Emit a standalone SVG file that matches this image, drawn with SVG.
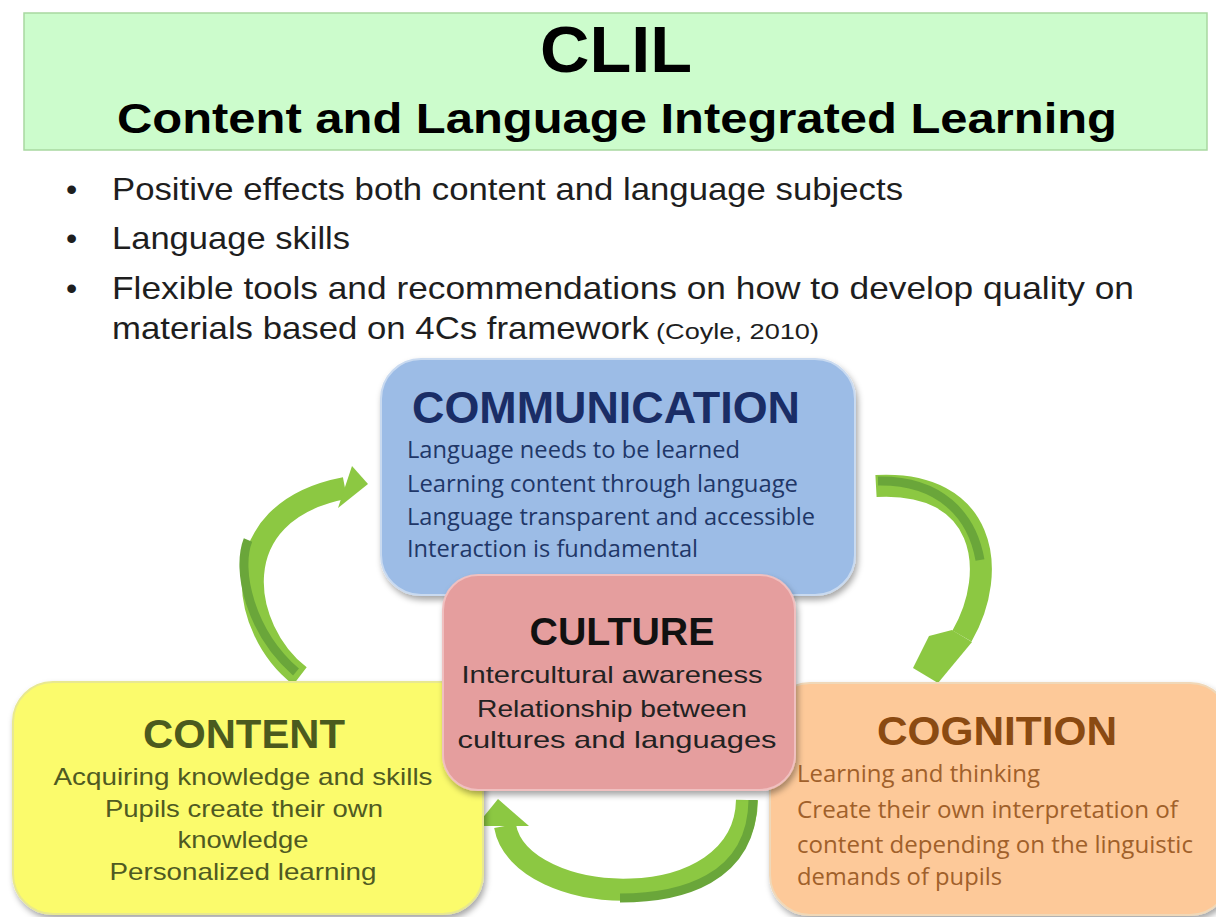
<svg xmlns="http://www.w3.org/2000/svg" width="1216" height="917" viewBox="0 0 1216 917">
<defs>
<style>
.sans{font-family:"Liberation Sans",Arial,sans-serif}
.cal{font-family:"Open Sans","Noto Sans",sans-serif}
.ttl{font-family:"Liberation Sans",Arial,sans-serif;font-weight:bold;text-anchor:middle}
.arrow{fill:none;stroke:#8cc842;stroke-width:22;stroke-linecap:butt}
.shade{fill:none;stroke:#6aa63a;stroke-width:9;stroke-linecap:butt}
.head{fill:#8cc842}
</style>
<filter id="sh" x="-10%" y="-10%" width="120%" height="130%">
<feDropShadow dx="2" dy="4" stdDeviation="3" flood-color="#000" flood-opacity="0.35"/>
</filter>
</defs>
<rect width="1216" height="917" fill="#ffffff"/>
<g id="title">
<rect x="24" y="13" width="1183" height="137" fill="#ccfccc" stroke="#a8d8a0" stroke-width="1.5"/>
<text class="ttl" x="616" y="72" font-size="64" textLength="152" lengthAdjust="spacingAndGlyphs" fill="#000">CLIL</text>
<text class="ttl" x="617" y="133" font-size="43" textLength="1000" lengthAdjust="spacingAndGlyphs" fill="#000">Content and Language Integrated Learning</text>
</g>
<g id="bullets" class="sans" fill="#1e1e1e" font-size="32">
<text x="66" y="200">•</text>
<text x="112" y="200" textLength="791" lengthAdjust="spacingAndGlyphs">Positive effects both content and language subjects</text>
<text x="66" y="249">•</text>
<text x="112" y="249" textLength="238" lengthAdjust="spacingAndGlyphs">Language skills</text>
<text x="66" y="299">•</text>
<text x="112" y="299" textLength="1022" lengthAdjust="spacingAndGlyphs">Flexible tools and recommendations on how to develop quality on</text>
<text x="112" y="339" textLength="537" lengthAdjust="spacingAndGlyphs">materials based on 4Cs framework</text>
<text x="656" y="339" font-size="22" textLength="163" lengthAdjust="spacingAndGlyphs">(Coyle, 2010)</text>
</g>
<g id="connectors">
<path class="arrow" d="M300,676 C240,630 220,512 345,488"/>
<path class="shade" d="M296,672 C250,632 236,570 248,540"/>
<polygon class="head" points="368,484 352,466 338,508"/>
<path class="arrow" d="M876,486 C985,480 1000,570 962,636"/>
<path class="shade" d="M878,481 C940,480 972,515 980,560"/>
<polygon class="head" points="952,630 929,636 913,668 938,683 972,642"/>
<path class="arrow" d="M747,800 C745,920 520,910 505,826"/>
<path class="shade" d="M753,800 C752,880 680,898 620,898"/>
<polygon class="head" points="498,799 476,826 529,826"/>
</g>
<g id="communication">
<rect x="381" y="359" width="474" height="236" rx="40" fill="#9cbce6" stroke="#c9daf0" stroke-width="2" filter="url(#sh)"/>
<text class="ttl" x="606" y="423" font-size="45" textLength="388" lengthAdjust="spacingAndGlyphs" fill="#1a2d66">COMMUNICATION</text>
<g class="cal" font-size="23" fill="#1f3768">
<text x="407" y="458" textLength="333" lengthAdjust="spacingAndGlyphs">Language needs to be learned</text>
<text x="407" y="492" textLength="391" lengthAdjust="spacingAndGlyphs">Learning content through language</text>
<text x="407" y="525" textLength="408" lengthAdjust="spacingAndGlyphs">Language transparent and accessible</text>
<text x="407" y="557" textLength="291" lengthAdjust="spacingAndGlyphs">Interaction is fundamental</text>
</g>
</g>
<g id="content">
<rect x="13" y="682" width="470" height="232" rx="40" fill="#fbfb6c" stroke="#e8e890" stroke-width="2" filter="url(#sh)"/>
<text class="ttl" x="244" y="748" font-size="40" textLength="202" lengthAdjust="spacingAndGlyphs" fill="#4b5a1e">CONTENT</text>
<g class="sans" font-size="24" fill="#4f5a22" text-anchor="middle">
<text x="243" y="785" textLength="379" lengthAdjust="spacingAndGlyphs">Acquiring knowledge and skills</text>
<text x="244" y="817" textLength="278" lengthAdjust="spacingAndGlyphs">Pupils create their own</text>
<text x="243" y="848" textLength="131" lengthAdjust="spacingAndGlyphs">knowledge</text>
<text x="243" y="880" textLength="267" lengthAdjust="spacingAndGlyphs">Personalized learning</text>
</g>
</g>
<g id="cognition">
<rect x="770" y="683" width="460" height="232" rx="40" fill="#fdc999" stroke="#f0d8b8" stroke-width="2" filter="url(#sh)"/>
<text class="ttl" x="997" y="745" font-size="40" textLength="240" lengthAdjust="spacingAndGlyphs" fill="#8a4a12">COGNITION</text>
<g class="cal" font-size="23" fill="#a0602a">
<text x="797" y="782" textLength="243" lengthAdjust="spacingAndGlyphs">Learning and thinking</text>
<text x="797" y="818" textLength="381" lengthAdjust="spacingAndGlyphs">Create their own interpretation of</text>
<text x="797" y="853" textLength="396" lengthAdjust="spacingAndGlyphs">content depending on the linguistic</text>
<text x="797" y="885" textLength="205" lengthAdjust="spacingAndGlyphs">demands of pupils</text>
</g>
</g>
<g id="culture">
<rect x="443" y="575" width="352" height="215" rx="35" fill="#e59e9e" stroke="#f0c0c0" stroke-width="2" filter="url(#sh)"/>
<text class="ttl" x="622" y="645" font-size="38" textLength="185" lengthAdjust="spacingAndGlyphs" fill="#111">CULTURE</text>
<g class="sans" font-size="24" fill="#222" text-anchor="middle">
<text x="612" y="683" textLength="301" lengthAdjust="spacingAndGlyphs">Intercultural awareness</text>
<text x="612" y="717" textLength="270" lengthAdjust="spacingAndGlyphs">Relationship between</text>
<text x="617" y="748" textLength="319" lengthAdjust="spacingAndGlyphs">cultures and languages</text>
</g>
</g>
</svg>
